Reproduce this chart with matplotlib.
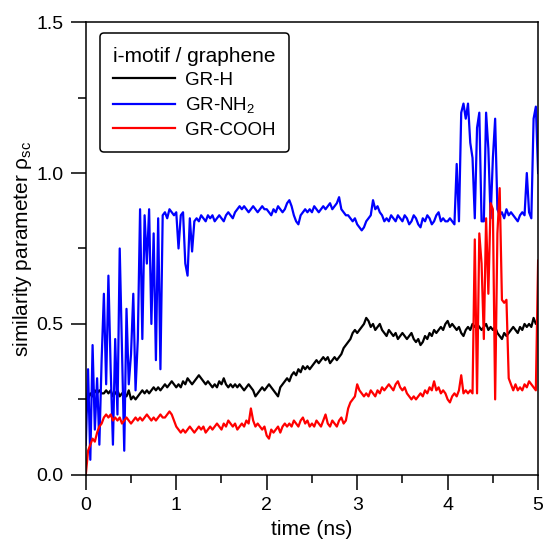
import matplotlib
matplotlib.use("Agg")
import matplotlib.pyplot as plt
import numpy as np

plt.rcParams['font.family'] = ['Liberation Sans', 'DejaVu Sans']
plt.rcParams['mathtext.fontset'] = 'custom'
plt.rcParams['mathtext.rm'] = 'Liberation Sans'
plt.rcParams['mathtext.it'] = 'Liberation Sans:italic'

# sampling step of the traces (ns)
DT = 0.025

gr_h = [
    0.20, 0.25, 0.27, 0.26, 0.28, 0.27, 0.28, 0.27, 0.27, 0.28,
    0.27, 0.28, 0.26, 0.27, 0.28, 0.26, 0.27, 0.27, 0.26, 0.28,
    0.25, 0.26, 0.25, 0.26, 0.27, 0.28, 0.27, 0.28, 0.27, 0.28,
    0.29, 0.28, 0.29, 0.28, 0.29, 0.30, 0.29, 0.30, 0.31, 0.30,
    0.29, 0.30, 0.29, 0.31, 0.30, 0.32, 0.31, 0.30, 0.31, 0.32,
    0.33, 0.32, 0.31, 0.30, 0.31, 0.30, 0.29, 0.30, 0.29, 0.31,
    0.30, 0.32, 0.30, 0.29, 0.30, 0.29, 0.30, 0.29, 0.30, 0.29,
    0.28, 0.29, 0.30, 0.29, 0.28, 0.26, 0.27, 0.28, 0.29, 0.28,
    0.29, 0.30, 0.29, 0.28, 0.27, 0.26, 0.29, 0.30, 0.31, 0.32,
    0.31, 0.33, 0.34, 0.33, 0.35, 0.34, 0.36, 0.35, 0.36, 0.35,
    0.36, 0.37, 0.38, 0.37, 0.38, 0.39, 0.38, 0.39, 0.37, 0.38,
    0.39, 0.38, 0.39, 0.40, 0.42, 0.43, 0.44, 0.45, 0.47, 0.48,
    0.47, 0.48, 0.49, 0.50, 0.52, 0.51, 0.49, 0.50, 0.48, 0.49,
    0.50, 0.48, 0.47, 0.46, 0.48, 0.47, 0.46, 0.47, 0.45, 0.46,
    0.47, 0.46, 0.45, 0.46, 0.47, 0.45, 0.44, 0.45, 0.43, 0.44,
    0.46, 0.45, 0.47, 0.46, 0.48, 0.47, 0.48, 0.49, 0.48, 0.50,
    0.51, 0.49, 0.50, 0.49, 0.48, 0.49, 0.47, 0.46, 0.48, 0.49,
    0.48, 0.50, 0.49, 0.50, 0.49, 0.48, 0.49, 0.50, 0.48, 0.49,
    0.48, 0.49, 0.47, 0.46, 0.45, 0.47, 0.46, 0.47, 0.48, 0.49,
    0.48, 0.47, 0.49, 0.48, 0.50, 0.49, 0.50, 0.49, 0.52, 0.50,
    0.51,
]

gr_nh2 = [
    0.10, 0.35, 0.05, 0.43, 0.15, 0.32, 0.10, 0.38, 0.60, 0.30,
    0.66, 0.35, 0.10, 0.45, 0.20, 0.75, 0.42, 0.08, 0.55, 0.30,
    0.40, 0.60, 0.28, 0.45, 0.88, 0.45, 0.86, 0.70, 0.88, 0.50,
    0.80, 0.38, 0.85, 0.35, 0.86, 0.87, 0.85, 0.88, 0.87, 0.86,
    0.87, 0.75, 0.86, 0.87, 0.70, 0.66, 0.85, 0.74, 0.84, 0.85,
    0.84, 0.86, 0.85, 0.84, 0.86, 0.85, 0.86, 0.84, 0.85, 0.86,
    0.85, 0.84, 0.86, 0.87, 0.86, 0.85, 0.87, 0.88, 0.89, 0.88,
    0.89, 0.88, 0.87, 0.88, 0.89, 0.88, 0.87, 0.88, 0.89, 0.88,
    0.88, 0.87, 0.86, 0.88, 0.87, 0.89, 0.88, 0.87, 0.88, 0.90,
    0.91, 0.89, 0.86, 0.84, 0.83, 0.86, 0.87, 0.88, 0.87, 0.88,
    0.87, 0.89, 0.88, 0.87, 0.88, 0.89, 0.88, 0.89, 0.90, 0.88,
    0.89, 0.90, 0.92, 0.88, 0.87, 0.86, 0.86, 0.85, 0.84, 0.85,
    0.83, 0.82, 0.81, 0.82, 0.84, 0.85, 0.86, 0.91, 0.88, 0.89,
    0.87, 0.86, 0.84, 0.85, 0.84, 0.86, 0.85, 0.84, 0.86, 0.85,
    0.84, 0.86, 0.85, 0.83, 0.84, 0.86, 0.85, 0.83, 0.82, 0.85,
    0.84, 0.86, 0.85, 0.83, 0.84, 0.86, 0.87, 0.84, 0.85, 0.84,
    0.84, 0.85, 0.84, 0.83, 1.03, 0.84, 1.20, 1.23, 1.18, 1.23,
    1.10, 1.05, 0.85, 1.15, 1.20, 0.84, 0.84, 1.20, 1.08, 0.85,
    1.05, 1.18, 0.88, 0.86, 0.87, 0.85, 0.88, 0.86, 0.87, 0.86,
    0.85, 0.84, 0.86, 0.87, 0.86, 1.00, 0.87, 0.85, 1.18, 1.22,
    1.00,
]

gr_cooh = [
    0.00, 0.08, 0.10, 0.12, 0.11, 0.14, 0.16, 0.17, 0.19, 0.20,
    0.19, 0.20, 0.18, 0.19, 0.18, 0.19, 0.17, 0.18, 0.19, 0.18,
    0.17, 0.18, 0.19, 0.18, 0.19, 0.18, 0.19, 0.20, 0.19, 0.18,
    0.19, 0.18, 0.19, 0.20, 0.19, 0.19, 0.20, 0.21, 0.20, 0.18,
    0.16, 0.15, 0.14, 0.15, 0.14, 0.15, 0.16, 0.15, 0.14, 0.15,
    0.16, 0.15, 0.16, 0.14, 0.15, 0.16, 0.15, 0.16, 0.17, 0.16,
    0.15, 0.17, 0.16, 0.18, 0.17, 0.16, 0.17, 0.15, 0.16, 0.17,
    0.16, 0.18, 0.17, 0.22, 0.18, 0.16, 0.17, 0.16, 0.15, 0.16,
    0.13, 0.12, 0.15, 0.14, 0.15, 0.16, 0.14, 0.16, 0.17, 0.16,
    0.17, 0.16, 0.18, 0.17, 0.16, 0.18, 0.19, 0.17, 0.18, 0.16,
    0.17, 0.16, 0.18, 0.17, 0.16, 0.18, 0.20, 0.17, 0.16, 0.18,
    0.17, 0.16, 0.18, 0.19, 0.17, 0.18, 0.22, 0.24, 0.25, 0.26,
    0.30, 0.28, 0.27, 0.26, 0.27, 0.26, 0.28, 0.27, 0.26, 0.28,
    0.27, 0.29, 0.28, 0.29, 0.30, 0.29, 0.28, 0.30, 0.31, 0.29,
    0.28, 0.29, 0.27, 0.26, 0.25, 0.26, 0.25, 0.26, 0.27, 0.26,
    0.28, 0.27, 0.29, 0.28, 0.31, 0.28, 0.29, 0.27, 0.28, 0.27,
    0.25, 0.24, 0.26, 0.27, 0.26, 0.28, 0.33, 0.27, 0.28, 0.27,
    0.28, 0.27, 0.78, 0.27, 0.80, 0.70, 0.45, 0.85, 0.60, 0.90,
    0.88, 0.25, 0.80, 0.95, 0.58, 0.57, 0.58, 0.32, 0.30, 0.28,
    0.30, 0.28, 0.29, 0.28, 0.30, 0.29, 0.31, 0.30, 0.29, 0.28,
    0.71,
]

series = [
    ("GR-H", gr_h, "black"),
    ("GR-NH$_2$", gr_nh2, "#0000ff"),
    ("GR-COOH", gr_cooh, "#ff0000"),
]

fig = plt.figure(figsize=(5.43, 5.39), dpi=100)
ax = fig.add_axes([0.158, 0.119, 0.833, 0.840])

for name, ys, col in series:
    t = np.arange(len(ys)) * DT
    ax.plot(t, ys, color=col, lw=1.6, label=name)

ax.set_xlim(0, 5)
ax.set_ylim(0, 1.5)
ax.set_xticks([0, 1, 2, 3, 4, 5])
ax.set_xticks(np.arange(0.5, 5, 1), minor=True)
ax.set_yticks([0.0, 0.5, 1.0, 1.5])
ax.set_yticklabels(["0.0", "0.5", "1.0", "1.5"])
ax.set_yticks([0.25, 0.75, 1.25], minor=True)
ax.tick_params(which='major', direction='out', length=11, width=1.1, labelsize=14, pad=5)
ax.tick_params(which='minor', direction='out', length=6, width=1.1)
for sp in ax.spines.values():
    sp.set_linewidth(1.1)

ax.set_xlabel("time (ns)", fontsize=15, labelpad=4)
ax.set_ylabel("similarity parameter ρ$_{\\mathrm{sc}}$", fontsize=15, labelpad=2)

leg = ax.legend(loc='upper left', bbox_to_anchor=(0.031, 0.975), borderaxespad=0,
                title="i-motif / graphene", fontsize=13.5, title_fontsize=15,
                handlelength=3.3, handletextpad=0.5, labelspacing=0.34,
                borderpad=0.7, fancybox=True, framealpha=1, edgecolor='black')
leg.get_frame().set_linewidth(1.1)

fig.savefig("out.png", dpi=100)
